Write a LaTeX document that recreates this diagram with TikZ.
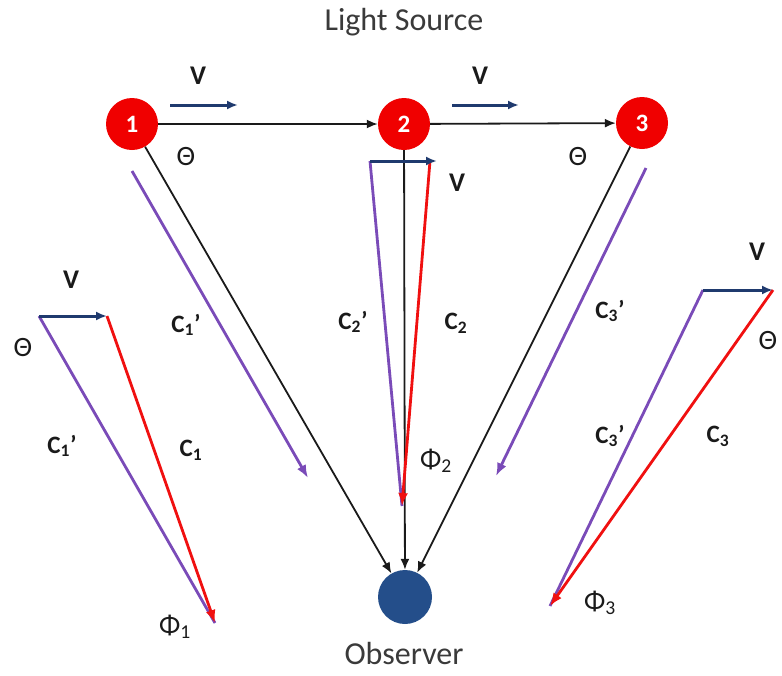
\documentclass[tikz,border=0pt]{standalone}
\usepackage{fontspec}
\setmainfont{Carlito}
\usetikzlibrary{arrows.meta}
\definecolor{ink}{HTML}{1A1A1A}
\definecolor{grey}{HTML}{3A3A3A}
\definecolor{navy}{HTML}{1F3A6E}
\definecolor{purp}{HTML}{7A4BB8}
\definecolor{redray}{HTML}{F01010}
\definecolor{srcred}{HTML}{F00000}
\definecolor{obsblue}{HTML}{244E8A}

\begin{document}
\begin{tikzpicture}[
  x=1pt,y=-1pt,
  src/.style={circle,fill=srcred,minimum size=52pt,inner sep=0pt,text=white,
              font=\bfseries\fontsize{25}{27}\selectfont},
  obsnode/.style={circle,fill=obsblue,minimum size=54pt,inner sep=0pt},
  lbl/.style={font=\fontsize{32}{34}\selectfont,text=grey},
  greek/.style={font=\fontsize{28}{30}\selectfont,text=ink},
  vlbl/.style={font=\bfseries\fontsize{27}{29}\selectfont,text=ink},
  clbl/.style={font=\bfseries\fontsize{25}{27}\selectfont,text=ink},
  track/.style={-{Latex[length=11pt,width=9pt]},line width=1.8pt,draw=ink},
  vel/.style={-{Latex[length=11pt,width=9pt]},line width=3pt,draw=navy},
  ray/.style={-{Latex[length=13pt,width=10pt]},line width=2.8pt,draw=redray},
  appray/.style={-{Latex[length=13pt,width=10pt]},line width=2.8pt,draw=purp},
  appline/.style={line width=2.8pt,draw=purp}
]
\useasboundingbox (0,0) rectangle (782,675);

% Source positions along the track, and the observer.
\node[lbl] (title) at (404,22) {Light Source};
\node[src] (n1) at (132,124) {1};
\node[src] (n2) at (404,124) {2};
\node[src] (n3) at (642,123) {3};
\node[obsnode] (obs) at (405,597) {};
\node[lbl] (obslbl) at (404,653) {Observer};

\draw[track] (n1) -- (n2);
\draw[track] (n2) -- (n3);
\draw[track] (n1) -- (obs);
\draw[track] (n2) -- (obs);
\draw[track] (n3) -- (obs);

% Velocity of the source.
\coordinate (v1a) at (170,105);
\coordinate (v1b) at (238,105);
\coordinate (v2a) at (452,105);
\coordinate (v2b) at (519,105);
\draw[vel] (v1a) -- (v1b);
\draw[vel] (v2a) -- (v2b);
\node[vlbl] (v1lbl) at (198,76) {V};
\node[vlbl] (v2lbl) at (480,76) {V};
\node[greek] (th1) at (186,157) {Θ};
\node[greek] (th3) at (578,157) {Θ};

% Apparent light directions next to the tracks.
\coordinate (p1a) at (132,171);
\coordinate (p1b) at (308,478);
\coordinate (p3a) at (646,168);
\coordinate (p3b) at (496,476);
\draw[appray] (p1a) -- (p1b);
\draw[appray] (p3a) -- (p3b);
\node[clbl] (c1top) at (186,325) {C\textsubscript{1}’};
\node[clbl] (c3top) at (610,311) {C\textsubscript{3}’};

% Middle triangle, source 2.
\coordinate (ma) at (370,161);
\coordinate (mb) at (437,161);
\coordinate (mr) at (430,161);
\coordinate (mtip) at (402,506);
\draw[appline] (ma) -- (mtip);
\draw[ray] (mr) -- (mtip);
\draw[vel] (ma) -- (mb);
\node[vlbl] (v3lbl) at (457,183) {V};
\node[clbl] (c2p) at (353,322) {C\textsubscript{2}’};
\node[clbl] (c2) at (456,323) {C\textsubscript{2}};
\node[greek] (phi2) at (436,461) {Φ\textsubscript{2}};

% Left triangle, source 1.
\coordinate (la) at (39,316);
\coordinate (lb) at (107,316);
\coordinate (ltip) at (215,623);
\draw[appline] (la) -- (ltip);
\draw[ray] (lb) -- (ltip);
\draw[vel] (la) -- (lb);
\node[vlbl] (v4lbl) at (71,280) {V};
\node[greek] (th4) at (23,348) {Θ};
\node[clbl] (c1p) at (62,446) {C\textsubscript{1}’};
\node[clbl] (c1) at (191,450) {C\textsubscript{1}};
\node[greek] (phi1) at (175,627) {Φ\textsubscript{1}};

% Right triangle, source 3.
\coordinate (ra) at (703,290);
\coordinate (rb) at (773,290);
\coordinate (rtip) at (550,606);
\draw[appline] (ra) -- (rtip);
\draw[ray] (rb) -- (rtip);
\draw[vel] (ra) -- (rb);
\node[vlbl] (v5lbl) at (757,252) {V};
\node[greek] (th5) at (768,341) {Θ};
\node[clbl] (c3p) at (610,436) {C\textsubscript{3}’};
\node[clbl] (c3) at (718,436) {C\textsubscript{3}};
\node[greek] (phi3) at (600,603) {Φ\textsubscript{3}};

\end{tikzpicture}
\end{document}
